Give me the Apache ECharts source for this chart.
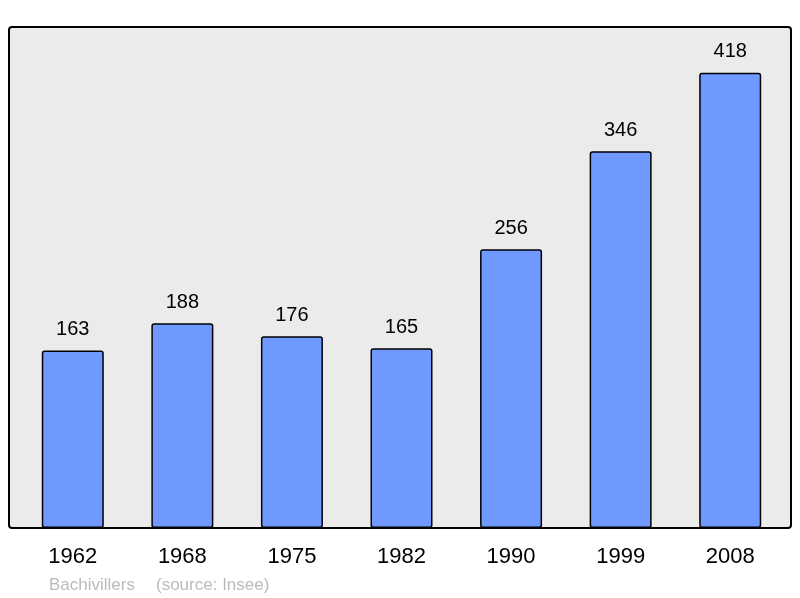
<!DOCTYPE html>
<html>
<head>
    <meta charset="utf-8" />
    <title>Bachivillers</title>
    <script src="https://cdn.jsdelivr.net/npm/echarts@6/dist/echarts.min.js"></script>
    <style>
        body { margin: 0; background: #fff; }
    </style>
</head>
<body>
    <div id="main" style="width: 800px;height:598px;"></div>
    <script type="text/javascript">
        var years = ['1962', '1968', '1975', '1982', '1990', '1999', '2008'];
        var population = [163, 188, 176, 165, 256, 346, 418];
        var yMax = 460;

        var myChart = echarts.init(document.getElementById('main'));

        var option = {
            animation: false,
            textStyle: { fontFamily: 'Liberation Sans, Arial, sans-serif' },
            graphic: [
                {
                    type: 'rect',
                    z: -1,
                    shape: { x: 9, y: 27, width: 782, height: 501, r: 3 },
                    style: { fill: '#ebebeb', stroke: '#000', lineWidth: 2 }
                },
                {
                    type: 'text',
                    left: 49, top: 577,
                    style: { text: 'Bachivillers', fill: '#bbbbbb', font: '17px Liberation Sans, Arial, sans-serif' }
                },
                {
                    type: 'text',
                    left: 156, top: 577,
                    style: { text: '(source: Insee)', fill: '#bbbbbb', font: '17px Liberation Sans, Arial, sans-serif' }
                }
            ],
            grid: { left: 18, right: 15, top: 27, bottom: 70 },
            xAxis: {
                type: 'category',
                data: years,
                axisLine: { show: false },
                axisTick: { show: false },
                axisLabel: { color: '#000', fontSize: 22, margin: 18 }
            },
            yAxis: {
                type: 'value',
                min: 0,
                max: yMax,
                show: false,
                splitLine: { show: false }
            },
            series: [
                {
                    type: 'bar',
                    data: population,
                    barWidth: 62,
                    itemStyle: { color: '#7099ff', borderColor: '#000', borderWidth: 1.5, borderRadius: 2 },
                    label: { show: true, position: 'top', distance: 11, color: '#000', fontSize: 20 }
                }
            ]
        };

        myChart.setOption(option);
    </script>
</body>
</html>
